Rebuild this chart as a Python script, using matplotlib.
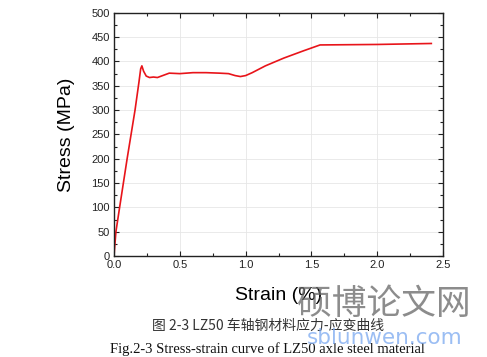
import matplotlib
matplotlib.use("Agg")
import matplotlib.pyplot as plt
from matplotlib.ticker import MultipleLocator, FormatStrFormatter

strain = [0.0, 0.015, 0.043, 0.10, 0.16, 0.19, 0.203, 0.212, 0.225, 0.245, 0.27, 0.30, 0.33, 0.36,
          0.42, 0.5, 0.6, 0.7, 0.8, 0.87, 0.92, 0.96, 1.0, 1.05, 1.15, 1.29, 1.44, 1.565, 2.0, 2.41]
stress = [0, 50, 100, 200, 300, 358, 385, 391, 380, 370, 367, 368, 367, 370,
          376, 375, 377, 377, 376, 375, 371, 369, 371, 377, 391, 407, 422, 434, 435, 437]

xlabel = "Strain (%)"
ylabel = "Stress (MPa)"
caption_cn = "图 2-3 LZ50 车轴钢材料应力-应变曲线"
caption_en = "Fig.2-3 Stress-strain curve of LZ50 axle steel material"
watermark_cn = "硕博论文网"
watermark_en = "sblunwen.com"

fig = plt.figure(figsize=(4.87, 3.57), dpi=100)
ax = fig.add_axes([0.234, 0.283, 0.676, 0.681])
ax.plot(strain, stress, color="#e8141a", lw=1.2)
ax.set_xlim(0, 2.5)
ax.set_ylim(0, 500)
ax.xaxis.set_major_locator(MultipleLocator(0.5))
ax.xaxis.set_minor_locator(MultipleLocator(0.25))
ax.yaxis.set_major_locator(MultipleLocator(50))
ax.yaxis.set_minor_locator(MultipleLocator(25))
ax.grid(True, which="major", color="#e6e6e6", lw=0.6)
ax.tick_params(which="both", direction="in", top=True, right=True, labelsize=8,
               width=0.8, colors="#222222", pad=3)
ax.tick_params(which="major", length=3.5)
ax.tick_params(which="minor", length=2)
ax.xaxis.set_major_formatter(FormatStrFormatter("%.1f"))
for lab in ax.get_xticklabels() + ax.get_yticklabels():
    lab.set_family("Liberation Sans")
for s in ax.spines.values():
    s.set_linewidth(1.0)
    s.set_color("#222222")
ax.set_xlabel(xlabel, fontsize=14, labelpad=12, family="Liberation Sans")
ax.set_ylabel(ylabel, fontsize=14, labelpad=12, family="Liberation Sans")

fig.text(0.55, 0.088, caption_cn, ha="center", va="center", fontsize=10,
         family=["Noto Sans CJK SC", "DejaVu Sans"], color="#333333")
fig.text(0.55, 0.022, caption_en, ha="center", va="center", fontsize=10.5,
         family="Liberation Serif", color="#111111")
fig.text(0.789, 0.147, watermark_cn, ha="center", va="center", fontsize=25,
         family=["Noto Sans CJK SC"], color="#666666", alpha=0.75)
fig.text(0.789, 0.053, watermark_en, ha="center", va="center", fontsize=15.5,
         family="DejaVu Sans", color="#7aa8f0", alpha=0.75)
fig.savefig("out.png", dpi=100)
